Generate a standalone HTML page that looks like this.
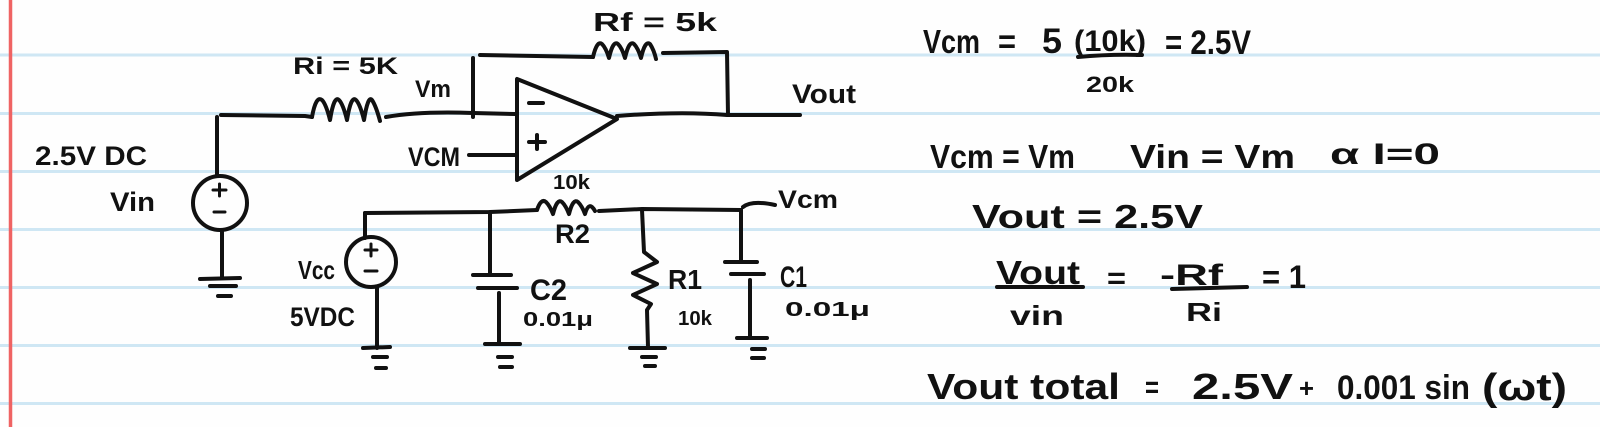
<!DOCTYPE html>
<html><head><meta charset="utf-8"><style>
html,body{margin:0;padding:0;background:#fff;}
svg{display:block;}
text{font-family:"Liberation Sans","DejaVu Sans",sans-serif;font-weight:bold;fill:#111;}
</style></head><body>
<svg width="1600" height="427" viewBox="0 0 1600 427" xmlns="http://www.w3.org/2000/svg">
<rect width="1600" height="427" fill="#fefefe"/>
<g stroke="#cfe7f4" stroke-width="3">
<line x1="0" y1="55" x2="1600" y2="55"/>
<line x1="0" y1="113.5" x2="1600" y2="113.5"/>
<line x1="0" y1="171.5" x2="1600" y2="171.5"/>
<line x1="0" y1="229.5" x2="1600" y2="229.5"/>
<line x1="0" y1="287.5" x2="1600" y2="287.5"/>
<line x1="0" y1="345.5" x2="1600" y2="345.5"/>
<line x1="0" y1="403.5" x2="1600" y2="403.5"/>
</g>
<line x1="10.5" y1="0" x2="10.5" y2="427" stroke="#ef6363" stroke-width="3.5"/>

<g fill="none" stroke="#111" stroke-width="4" stroke-linecap="round" stroke-linejoin="round">
<!-- Vin source -->
<path d="M217 117 L217 176"/>
<path d="M221 115 L305 116 L312 117"/>
<circle cx="220" cy="203" r="27"/>
<path d="M222 231 L222 278"/>
<path d="M200 279 L240 278 M210 286 L236 286 M218 296 L231 296"/>
<!-- Ri resistor -->
<path d="M312 117 Q316 95 322 100 Q326 104 330 120 Q334 95 339 100 Q343 104 347 120 Q351 95 356 100 Q360 104 364 120 Q368 95 372 100 Q376 106 380 121"/>
<!-- wire to minus input -->
<path d="M386 117 Q420 111 473 113 L515 114"/>
<!-- feedback -->
<path d="M473 117 L473 58"/>
<path d="M480 55 L593 57"/>
<path d="M593 57 Q597 40 602 44 Q606 48 609 58 Q613 40 618 44 Q622 48 625 58 Q629 40 634 44 Q638 48 641 58 Q645 40 650 44 Q654 50 656 59"/>
<path d="M663 53 L727 52 L728 115"/>
<!-- opamp -->
<path d="M517 79 L517 180 L617 119 Z"/>
<path d="M529 103 L543 103"/>
<path d="M529 142 L545 142 M537 135 L537 149"/>
<path d="M469 155 L515 155"/>
<!-- output -->
<path d="M617 116 Q680 111 727 115 L800 115"/>
<!-- Vcc source -->
<path d="M365 238 L365 213"/>
<circle cx="371" cy="262" r="25"/>
<path d="M377 287 L377 348"/>
<path d="M363 348 L390 347 M373 357 L387 357 M376 368 L386 368"/>
<!-- bottom wire -->
<path d="M365 213 L490 212 L537 210"/>
<path d="M537 210 Q541 198 546 202 Q550 206 553 214 Q557 198 562 202 Q566 206 569 214 Q573 198 578 202 Q582 206 585 214 Q589 200 595 211"/>
<path d="M599 211 L642 209 L741 210"/>
<path d="M743 207 Q752 200 775 205"/>
<!-- C2 -->
<path d="M490 212 L490 273"/>
<path d="M473 275 L511 275 M478 288 L517 288"/>
<path d="M499 293 L499 343"/>
<path d="M485 344 L520 344 M498 357 L512 357 M500 367 L512 367"/>
<!-- R1 -->
<path d="M642 210 L644 252 L657 262 L633 273 L657 284 L633 295 L651 304 L647 310 L648 347"/>
<path d="M630 348 L665 348 M642 357 L656 357 M645 366 L655 366"/>
<!-- C1 -->
<path d="M741 210 L741 260"/>
<path d="M725 262 L757 262 M731 274 L764 274"/>
<path d="M750 280 L750 337"/>
<path d="M737 338 L767 338 M752 349 L765 349 M752 358 L764 358"/>
<!-- equation fraction bars -->
<path d="M1078 57 Q1110 54 1142 55"/>
<path d="M997 287 L1083 287"/>
<path d="M1172 289 L1247 287"/>
</g>
<g stroke="#111" stroke-width="3" stroke-linecap="round" fill="none">
<path d="M213 190 L226 190 M219.5 184 L219.5 196"/>
<path d="M214 212 L225 212"/>
<path d="M365 250 L377 250 M371 244 L371 256"/>
<path d="M365 271 L377 271"/>
</g>

<!-- labels left -->
<text x="35" y="165" font-size="27" textLength="112" lengthAdjust="spacingAndGlyphs">2.5V DC</text>
<text x="110" y="211" font-size="27" textLength="45" lengthAdjust="spacingAndGlyphs">Vin</text>
<text x="293" y="74" font-size="24" textLength="105" lengthAdjust="spacingAndGlyphs">Ri = 5K</text>
<text x="415" y="97" font-size="24" textLength="36" lengthAdjust="spacingAndGlyphs">Vm</text>
<text x="408" y="166" font-size="27" textLength="52" lengthAdjust="spacingAndGlyphs">VCM</text>
<text x="593" y="31" font-size="26" textLength="124" lengthAdjust="spacingAndGlyphs">Rf = 5k</text>
<text x="792" y="103" font-size="27" textLength="64" lengthAdjust="spacingAndGlyphs">Vout</text>
<text x="553" y="189" font-size="20" textLength="37" lengthAdjust="spacingAndGlyphs">10k</text>
<text x="555" y="243" font-size="27" textLength="35" lengthAdjust="spacingAndGlyphs">R2</text>
<text x="298" y="279" font-size="26" textLength="37" lengthAdjust="spacingAndGlyphs">Vcc</text>
<text x="290" y="326" font-size="27" textLength="65" lengthAdjust="spacingAndGlyphs">5VDC</text>
<text x="530" y="300" font-size="30" textLength="37" lengthAdjust="spacingAndGlyphs">C2</text>
<text x="523" y="326" font-size="20" textLength="70" lengthAdjust="spacingAndGlyphs">0.01μ</text>
<text x="668" y="289" font-size="28" textLength="34" lengthAdjust="spacingAndGlyphs">R1</text>
<text x="678" y="325" font-size="20" textLength="34" lengthAdjust="spacingAndGlyphs">10k</text>
<text x="780" y="287" font-size="30" textLength="27" lengthAdjust="spacingAndGlyphs">C1</text>
<text x="785" y="316" font-size="20" textLength="85" lengthAdjust="spacingAndGlyphs">0.01μ</text>
<text x="778" y="208" font-size="25" textLength="60" lengthAdjust="spacingAndGlyphs">Vcm</text>

<!-- equations -->
<text x="923" y="53" font-size="33" textLength="57" lengthAdjust="spacingAndGlyphs">Vcm</text>
<text x="998" y="53" font-size="33" textLength="18" lengthAdjust="spacingAndGlyphs">=</text>
<text x="1042" y="53" font-size="35" textLength="20" lengthAdjust="spacingAndGlyphs">5</text>
<text x="1074" y="51" font-size="30" textLength="72" lengthAdjust="spacingAndGlyphs">(10k)</text>
<text x="1086" y="92" font-size="22" textLength="48" lengthAdjust="spacingAndGlyphs">20k</text>
<text x="1165" y="54" font-size="34" textLength="86" lengthAdjust="spacingAndGlyphs">= 2.5V</text>

<text x="930" y="168" font-size="33" textLength="145" lengthAdjust="spacingAndGlyphs">Vcm = Vm</text>
<text x="1130" y="168" font-size="33" textLength="165" lengthAdjust="spacingAndGlyphs">Vin = Vm</text>
<text x="1330" y="164" font-size="30" textLength="110" lengthAdjust="spacingAndGlyphs">α I=0</text>

<text x="972" y="228" font-size="33" textLength="231" lengthAdjust="spacingAndGlyphs">Vout = 2.5V</text>

<text x="996" y="284" font-size="33" textLength="84" lengthAdjust="spacingAndGlyphs">Vout</text>
<text x="1010" y="325" font-size="28" textLength="54" lengthAdjust="spacingAndGlyphs">vin</text>
<text x="1107" y="288" font-size="30" textLength="19" lengthAdjust="spacingAndGlyphs">=</text>
<text x="1160" y="285" font-size="30" textLength="63" lengthAdjust="spacingAndGlyphs">-Rf</text>
<text x="1186" y="321" font-size="26" textLength="36" lengthAdjust="spacingAndGlyphs">Ri</text>
<text x="1262" y="288" font-size="32" textLength="44" lengthAdjust="spacingAndGlyphs">= 1</text>

<text x="927" y="399" font-size="36" textLength="193" lengthAdjust="spacingAndGlyphs">Vout total</text>
<text x="1145" y="397" font-size="30" textLength="14" lengthAdjust="spacingAndGlyphs">=</text>
<text x="1192" y="399" font-size="36" textLength="101" lengthAdjust="spacingAndGlyphs">2.5V</text>
<text x="1299" y="397" font-size="26" textLength="15" lengthAdjust="spacingAndGlyphs">+</text>
<text x="1337" y="399" font-size="34" textLength="133" lengthAdjust="spacingAndGlyphs">0.001 sin</text>
<text x="1482" y="400" font-size="38" textLength="85" lengthAdjust="spacingAndGlyphs">(ωt)</text>
</svg>
</body></html>
